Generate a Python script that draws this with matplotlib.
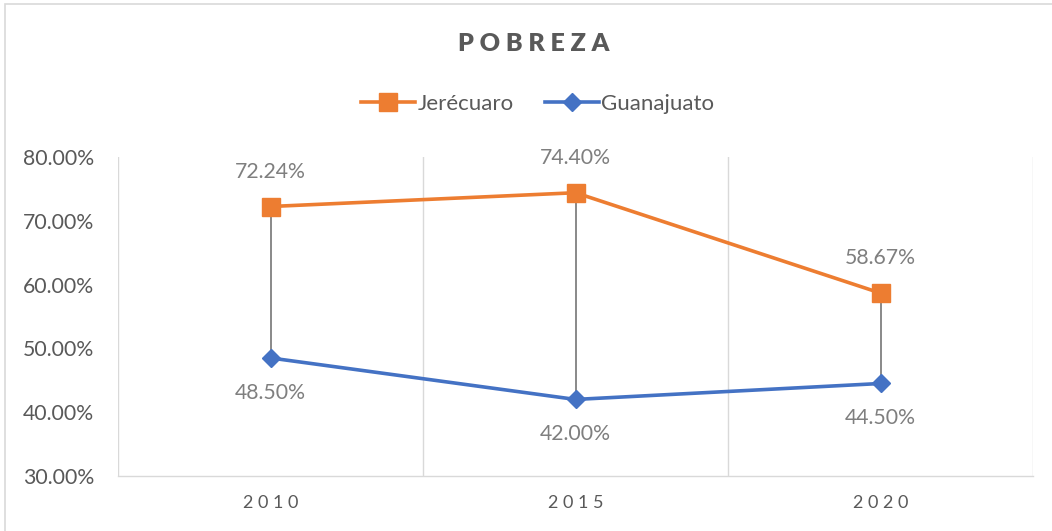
import numpy as np
import matplotlib.pyplot as plt
from matplotlib.patches import Rectangle
from matplotlib.ticker import FuncFormatter

YEARS = ["2010", "2015", "2020"]
JERECUARO = [72.24, 74.40, 58.67]
GUANAJUATO = [48.50, 42.00, 44.50]

ORANGE = "#ED7D31"
BLUE = "#4472C4"
TEXT = "#595959"
LABEL = "#7F7F7F"
GRID = "#D9D9D9"

plt.rcParams["font.family"] = ["Lato", "DejaVu Sans"]

fig = plt.figure(figsize=(10.52, 5.31), dpi=100)
ax = fig.add_axes([118 / 1052, 1 - 476 / 531, (1033 - 118) / 1052, (476 - 157) / 531])

# chart border
fig.patches.append(Rectangle((5 / 1052, -0.05), 1.2, 1 - 4 / 531 + 0.05,
                             transform=fig.transFigure, fill=False,
                             edgecolor=GRID, lw=1.2))

x = np.arange(len(YEARS))

# high-low lines
ax.vlines(x, GUANAJUATO, JERECUARO, color="#808080", lw=1.3, zorder=2)

ax.plot(x, JERECUARO, color=ORANGE, lw=2.6, marker="s", markersize=12.5,
        label="Jerécuaro", zorder=3)
ax.plot(x, GUANAJUATO, color=BLUE, lw=2.6, marker="D", markersize=9.5,
        label="Guanajuato", zorder=3)

for xi, v in zip(x, JERECUARO):
    ax.annotate(f"{v:.2f}%", (xi, v), xytext=(0, 25), textcoords="offset points",
                ha="center", va="center", fontsize=15.3, color=LABEL)
for xi, v in zip(x, GUANAJUATO):
    ax.annotate(f"{v:.2f}%", (xi, v), xytext=(0, -25), textcoords="offset points",
                ha="center", va="center", fontsize=15.3, color=LABEL)

ax.set_xlim(-0.5, len(YEARS) - 0.5)
ax.set_ylim(30, 80)
ax.set_yticks(np.arange(30, 81, 10))
ax.yaxis.set_major_formatter(FuncFormatter(lambda v, _: f"{v:.2f}%"))
ax.set_xticks(x)
ax.set_xticklabels([" ".join(y) for y in YEARS])
ax.set_xticks(np.arange(-0.5, len(YEARS), 1), minor=True)
ax.grid(True, which="minor", axis="x", color=GRID, lw=1)
ax.tick_params(axis="y", length=0, pad=17, labelsize=15.3, labelcolor=TEXT)
ax.tick_params(axis="x", which="major", length=0, pad=14, labelsize=13, labelcolor=TEXT)
ax.tick_params(axis="x", which="minor", length=0)

for s in ["top", "right", "left"]:
    ax.spines[s].set_visible(False)
ax.spines["bottom"].set_color(GRID)
ax.spines["bottom"].set_linewidth(1)

fig.text(0.507, 1 - 44 / 531, "P O B R E Z A", ha="center", va="center",
         fontsize=18, fontweight="heavy", color=TEXT)

fig.legend(loc="center", bbox_to_anchor=(0.511, 1 - 104 / 531), ncol=2, frameon=False,
           fontsize=16, labelcolor=TEXT, handlelength=2.45, columnspacing=1.4,
           handletextpad=0.1)

fig.savefig("out.png", dpi=100, facecolor="white")
